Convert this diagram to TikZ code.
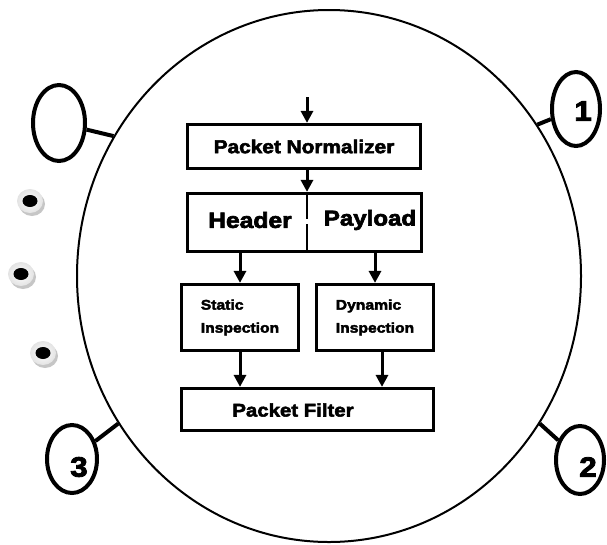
\documentclass[tikz,border=0pt]{standalone}
\usepackage{fontspec}
\newfontfamily\labfont[FakeStretch=1.12, BoldFeatures={FakeBold=3}]{Liberation Sans}
\usetikzlibrary{arrows.meta,shapes.geometric}

\tikzset{
  stagebox/.style={draw, line width=3.2pt, rectangle, inner sep=0pt},
  flow/.style={line width=3pt, -{Triangle[width=12pt,length=12pt]}},
  tag/.style={draw, ellipse, line width=4pt, inner sep=0pt},
  tagline/.style={line width=4pt},
  txt/.style={font=\labfont\bfseries, inner sep=0pt},
  bead/.pic={
    \fill[gray!45] (2,3) ellipse [x radius=13pt, y radius=12pt];
    \shade[inner color=white, outer color=gray!22] (0,0) ellipse [x radius=13pt, y radius=12pt];
    \fill[black] (0,0) ellipse [x radius=7.5pt, y radius=6pt];
  }
}

\begin{document}
\begin{tikzpicture}[x=1pt, y=-1pt]
\useasboundingbox (0,0) rectangle (607,544);

% outer boundary
\node[draw, ellipse, line width=2pt, inner sep=0pt,
      minimum width=504pt, minimum height=532pt] (big) at (329,276) {};

% numbered tags around the boundary
\node[tag, minimum width=52pt, minimum height=76pt] (t0) at (59,123) {};
\node[tag, minimum width=48pt, minimum height=74pt] (t1) at (576,109) {};
\node[tag, minimum width=48pt, minimum height=68pt] (t2) at (580,460) {};
\node[tag, minimum width=50pt, minimum height=68pt] (t3) at (72,459) {};
\node[txt, font=\labfont\bfseries\fontsize{28}{28}\selectfont] (n1) at (583,111) {1};
\node[txt, font=\labfont\bfseries\fontsize{28}{28}\selectfont] (n2) at (588,467) {2};
\node[txt, font=\labfont\bfseries\fontsize{28}{28}\selectfont] (n3) at (79,467) {3};
\draw[tagline] (t0) -- (big.147.5);
\draw[tagline] (t1) -- (big.36.2);
\draw[tagline] (t2) -- (big.-35.6);
\draw[tagline] (t3) -- (big.215.5);

% bullet beads on the left
\pic at (30,201) {bead};
\pic at (21,274) {bead};
\pic at (43,353) {bead};

% processing stages
\node[stagebox, minimum width=233pt, minimum height=44pt] (norm) at (304,146.5)
  {\labfont\bfseries\fontsize{18.6}{20}\selectfont Packet Normalizer};
\node[stagebox, minimum width=234pt, minimum height=58pt] (hp) at (304.5,222.5) {};
\node[txt, font=\labfont\bfseries\fontsize{22}{24}\selectfont] (hdr) at (250,220) {Header};
\node[txt, font=\labfont\bfseries\fontsize{21.5}{24}\selectfont] (pay) at (370,220) {Payload};
\node[stagebox, minimum width=117pt, minimum height=66pt, align=left,
      font=\labfont\bfseries\fontsize{14}{23}\selectfont] (stat) at (240,317.5)
  {Static\\Inspection};
\node[stagebox, minimum width=117pt, minimum height=66pt, align=left,
      font=\labfont\bfseries\fontsize{14}{23}\selectfont] (dyn) at (375,317.5)
  {Dynamic\\Inspection};
\node[stagebox, minimum width=252pt, minimum height=42pt] (filt) at (307.5,409.5) {};
\node[txt, font=\labfont\bfseries\fontsize{18.2}{20}\selectfont] (ftxt) at (293,410) {Packet Filter};

% connectors
\coordinate (in) at (307,97);
\coordinate (gapA) at (307,219);
\coordinate (gapB) at (307,224);
\draw[flow] (in) -- (norm.north -| in);
\draw[flow] (norm.south -| in) -- (hp.north -| in);
\draw[line width=2.5pt] (hp.north -| in) -- (gapA) (gapB) -- (hp.south -| in);
\draw[flow] (stat.north |- hp.south) -- (stat.north);
\draw[flow] (dyn.north |- hp.south) -- (dyn.north);
\draw[flow] (stat.south) -- (stat.south |- filt.north);
\draw[flow] ([xshift=7pt]dyn.south) -- ([xshift=7pt]dyn.south |- filt.north);
\end{tikzpicture}
\end{document}
